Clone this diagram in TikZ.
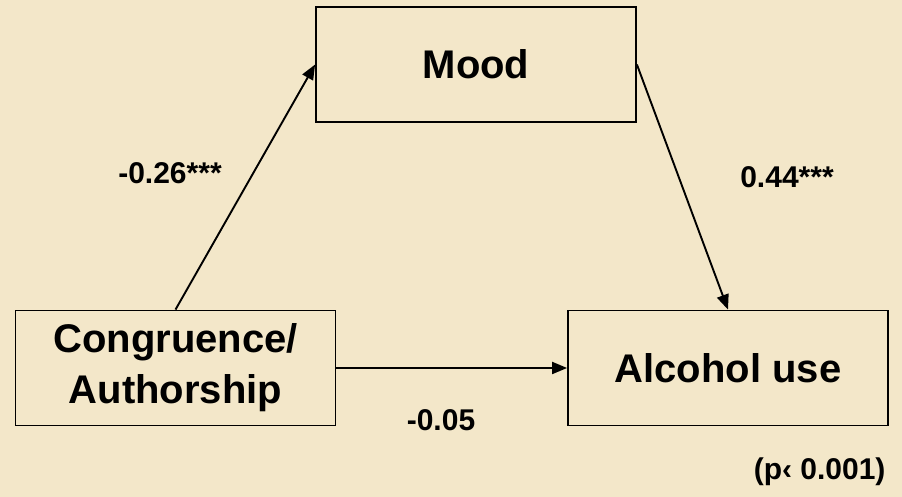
\documentclass[tikz,border=0pt]{standalone}
\usepackage{fontspec}
\setmainfont{Liberation Sans}
\usepackage{tikz}
\usetikzlibrary{arrows.meta,positioning}
\definecolor{paper}{RGB}{243,231,201}

\begin{document}
\begin{tikzpicture}[x=1pt,y=1pt,
	var/.style={draw,line width=1.8pt,minimum width=320pt,minimum height=115pt,align=center,
		font=\fontsize{40}{51}\selectfont\bfseries},
	coef/.style={font=\fontsize{30}{34}\selectfont\bfseries},
	path/.style={line width=1.9pt,-{Triangle[length=15pt,width=12pt]}}]
\fill[paper] (0,0) rectangle (902,497);
\useasboundingbox (0,0) rectangle (902,497);
\node[var] (mood) at (476,432.5) {Mood};
\node[var] (cong) at (175.5,129) {Congruence/\\Authorship};
\node[var] (alc) at (728,129) {Alcohol use};
\draw[path] (cong.north) -- (mood.west);
\draw[path] (mood.east) -- (alc.north);
\draw[path] (cong.east) -- (alc.west);
\node[coef] (a) at (170,324) {-0.26***};
\node[coef] (b) at (787,320) {0.44***};
\node[coef] (c) at (441,77) {-0.05};
\node[coef,anchor=east] (p) at (889,25) {(p‹ 0.001)};
\end{tikzpicture}
\end{document}
